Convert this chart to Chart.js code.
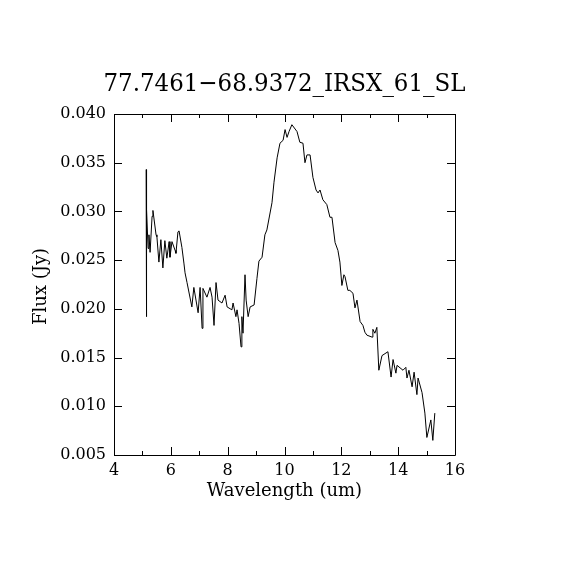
<!DOCTYPE html>
<html>
<head>
<meta charset="utf-8">
<script src="https://cdn.jsdelivr.net/npm/chart.js@4/dist/chart.umd.min.js"></script>
<style>
  html, body { margin: 0; padding: 0; background: #fff; }
  #wrap { width: 570px; height: 570px; }
</style>
</head>
<body>
<div id="wrap"><canvas id="c" width="570" height="570"></canvas></div>
<script>
const chartTitle = '77.7461\u221268.9372_IRSX_61_SL';
const xTitle = 'Wavelength (um)';
const yTitle = 'Flux (Jy)';

// wavelength (um)
const wavelength = [
    5.13, 5.13, 5.16, 5.20, 5.23, 5.27, 5.34, 5.37, 5.48, 5.51,
    5.58, 5.65, 5.72, 5.79, 5.86, 5.94, 5.97, 6.04, 6.15, 6.18,
    6.25, 6.29, 6.39, 6.46, 6.50, 6.57, 6.74, 6.81, 6.96, 7.03,
    7.10, 7.13, 7.27, 7.38, 7.45, 7.52, 7.59, 7.66, 7.80, 7.91,
    7.98, 8.15, 8.19, 8.29, 8.33, 8.40, 8.47, 8.50, 8.54, 8.61,
    8.65, 8.72, 8.79, 8.93, 9.03, 9.10, 9.21, 9.31, 9.38, 9.56,
    9.63, 9.74, 9.84, 9.95, 10.02, 10.09, 10.16, 10.26, 10.44, 10.54,
    10.65, 10.72, 10.79, 10.90, 11.00, 11.11, 11.18, 11.25, 11.35, 11.49,
    11.60, 11.67, 11.78, 11.88, 11.95, 12.02, 12.09, 12.13, 12.23, 12.30,
    12.41, 12.48, 12.55, 12.66, 12.76, 12.83, 12.90, 13.08, 13.11, 13.18,
    13.25, 13.32, 13.43, 13.64, 13.75, 13.82, 13.92, 13.96, 14.17, 14.27,
    14.31, 14.38, 14.49, 14.56, 14.66, 14.70, 14.84, 14.94, 15.01, 15.15,
    15.22, 15.29
];

// flux (Jy)
const flux = [
    0.0343, 0.0192, 0.0302, 0.0262, 0.0276, 0.0258, 0.0295, 0.0301, 0.0276, 0.0274,
    0.0248, 0.0271, 0.0242, 0.0270, 0.0252, 0.0269, 0.0253, 0.0269, 0.0260, 0.0257,
    0.0279, 0.0280, 0.0263, 0.0247, 0.0237, 0.0227, 0.0202, 0.0222, 0.0196, 0.0222,
    0.0180, 0.0221, 0.0212, 0.0222, 0.0212, 0.0183, 0.0227, 0.0209, 0.0206, 0.0214,
    0.0202, 0.0199, 0.0206, 0.0192, 0.0199, 0.0185, 0.0161, 0.0192, 0.0175, 0.0235,
    0.0209, 0.0192, 0.0202, 0.0204, 0.0231, 0.0249, 0.0253, 0.0276, 0.0281, 0.0309,
    0.0330, 0.0355, 0.0370, 0.0373, 0.0384, 0.0376, 0.0382, 0.0389, 0.0382, 0.0371,
    0.0370, 0.0350, 0.0358, 0.0358, 0.0335, 0.0322, 0.0319, 0.0322, 0.0312, 0.0307,
    0.0294, 0.0294, 0.0268, 0.0260, 0.0248, 0.0224, 0.0235, 0.0233, 0.0219, 0.0219,
    0.0216, 0.0201, 0.0209, 0.0187, 0.0183, 0.0176, 0.0173, 0.0171, 0.0179, 0.0175,
    0.0181, 0.0137, 0.0152, 0.0156, 0.0130, 0.0148, 0.0134, 0.0142, 0.0137, 0.0140,
    0.0129, 0.0137, 0.0120, 0.0135, 0.0112, 0.0129, 0.0114, 0.0093, 0.0068, 0.0086,
    0.0065, 0.0093
];

const xTicks = [4, 6, 8, 10, 12, 14, 16];
const xMinorTicks = [5, 7, 9, 11, 13, 15];
const yTicks = [0.005, 0.010, 0.015, 0.020, 0.025, 0.030, 0.035, 0.040];

const serif = '"DejaVu Serif", "Liberation Serif", serif';

// box, inward ticks on all four sides, titles
const framePlugin = {
    id: 'frame',
    afterDraw(chart) {
        const { ctx, chartArea: a, scales: { x, y } } = chart;
        ctx.save();
        ctx.strokeStyle = '#000';
        ctx.lineWidth = 1;
        ctx.beginPath();
        ctx.rect(a.left + 0.5, a.top + 0.5, a.right - a.left, a.bottom - a.top);
        const tick = (px, len) => {
            const xx = Math.round(px) + 0.5;
            ctx.moveTo(xx, a.bottom); ctx.lineTo(xx, a.bottom - len);
            ctx.moveTo(xx, a.top); ctx.lineTo(xx, a.top + len);
        };
        xTicks.forEach(v => tick(x.getPixelForValue(v), 8));
        xMinorTicks.forEach(v => tick(x.getPixelForValue(v), 4));
        yTicks.forEach(v => {
            const yy = Math.round(y.getPixelForValue(v)) + 0.5;
            ctx.moveTo(a.left, yy); ctx.lineTo(a.left + 8, yy);
            ctx.moveTo(a.right, yy); ctx.lineTo(a.right - 8, yy);
        });
        ctx.stroke();

        ctx.fillStyle = '#000';
        ctx.textAlign = 'center';
        ctx.textBaseline = 'alphabetic';
        const cx = (a.left + a.right) / 2;

        // title: tall glyphs, squeezed to the reference width
        ctx.save();
        ctx.font = '25px ' + serif;
        const w = ctx.measureText(chartTitle).width;
        ctx.translate(cx, 91);
        ctx.scale(362 / w, 1);
        ctx.fillText(chartTitle, 0, 0);
        ctx.restore();

        ctx.font = '18px ' + serif;
        ctx.fillText(xTitle, cx, 496);
        ctx.translate(46, (a.top + a.bottom) / 2 + 2);
        ctx.rotate(-Math.PI / 2);
        ctx.fillText(yTitle, 0, 0);
        ctx.restore();
    }
};

new Chart(document.getElementById('c'), {
    type: 'line',
    data: {
        datasets: [{
            data: wavelength.map((w, i) => ({ x: w, y: flux[i] })),
            borderColor: '#000',
            borderWidth: 1,
            pointRadius: 0,
            tension: 0,
            fill: false,
        }],
    },
    options: {
        responsive: false,
        animation: false,
        layout: { padding: { left: 0, top: 114, right: 115, bottom: 55 } },
        plugins: { legend: { display: false }, tooltip: { enabled: false } },
        scales: {
            x: {
                type: 'linear',
                min: 4,
                max: 16,
                afterFit(s) { s.height = 60; },
                afterBuildTicks(s) { s.ticks = xTicks.map(v => ({ value: v })); },
                grid: { display: false, drawTicks: false },
                border: { display: false },
                ticks: { color: '#000', font: { family: serif, size: 16 }, padding: 6, maxRotation: 0 },
            },
            y: {
                min: 0.005,
                max: 0.040,
                afterFit(s) { s.width = 114; },
                afterBuildTicks(s) { s.ticks = yTicks.map(v => ({ value: v })); },
                grid: { display: false, drawTicks: false },
                border: { display: false },
                ticks: { color: '#000', font: { family: serif, size: 16 }, padding: 8, callback: v => v.toFixed(3) },
            },
        },
    },
    plugins: [framePlugin],
});
</script>
</body>
</html>
